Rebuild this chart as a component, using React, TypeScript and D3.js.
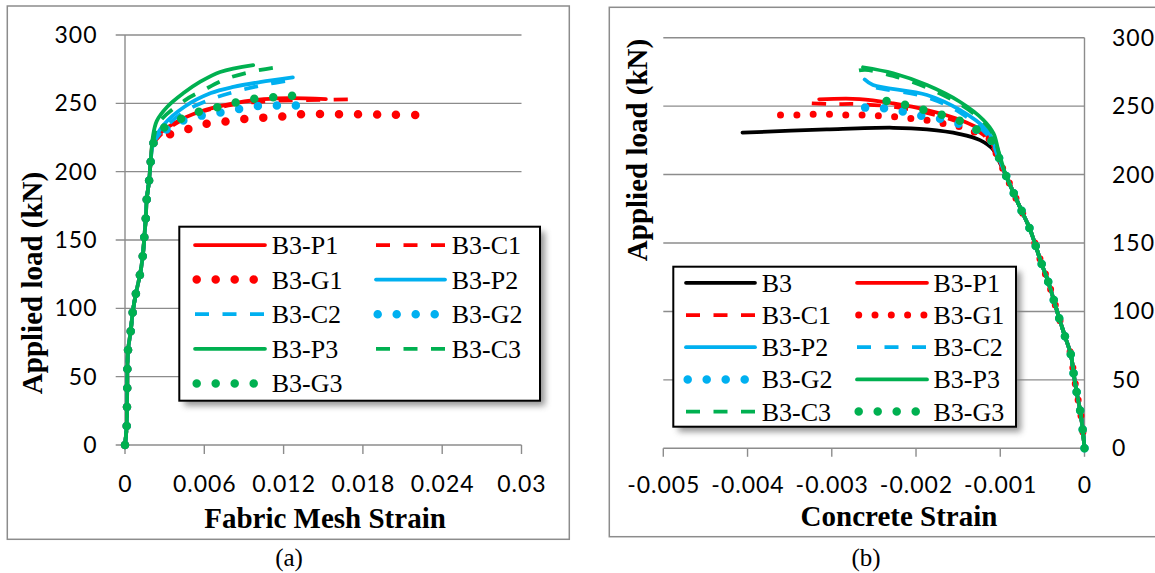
import React from "react";
import * as d3 from "d3";

type Pt = [number, number];

// ---------- Data: (a) Fabric mesh strain vs applied load ----------
const riseA: Pt[] = [
  [0, 0], [0.00013, 14], [0.00015, 28], [0.00017, 42], [0.00018, 55.6], [0.00023, 69.5],
  [0.00043, 83], [0.00058, 97], [0.00083, 111], [0.00113, 124.4], [0.00134, 137.8],
  [0.00146, 152], [0.00157, 165.6], [0.00164, 179.3], [0.00182, 193.2], [0.00194, 206.8],
];
const a_P1: Pt[] = [[0.0021, 220], [0.00265, 228], [0.0037, 235.4], [0.0057, 244], [0.0082, 250], [0.0105, 253], [0.0125, 253.8], [0.0152, 253]];
const a_C1: Pt[] = [[0.0021, 219], [0.0027, 227], [0.004, 236], [0.0057, 243.5], [0.0082, 249], [0.0107, 251.5], [0.0137, 252.4], [0.017, 253]];
const a_G1: Pt[] = [[0.00214, 220.7], [0.00328, 226.8], [0.00471, 231], [0.00613, 234.9], [0.00754, 236.6], [0.00895, 238.5], [0.01039, 239.5], [0.0118, 240.2], [0.01324, 242], [0.01609, 242], [0.02037, 241.7], [0.02325, 241.2]];
const a_P2: Pt[] = [[0.00214, 221], [0.0029, 234], [0.0045, 247.5], [0.0065, 257.5], [0.0082, 262], [0.0102, 265.5], [0.0127, 269]];
const a_C2: Pt[] = [[0.00214, 220], [0.0029, 231], [0.0045, 244], [0.0065, 253], [0.0085, 259], [0.0105, 263.5], [0.0126, 267]];
const a_G2: Pt[] = [[0.00214, 220.7], [0.0029, 229], [0.00429, 237], [0.0058, 241], [0.00719, 243.2], [0.00863, 245.9], [0.01004, 248], [0.01148, 248.5], [0.01292, 248.5], [0.01432, 248.5]];
const a_P3: Pt[] = [[0.0021, 225], [0.0024, 237], [0.0032, 247.5], [0.0044, 257.3], [0.0057, 265.8], [0.0072, 273], [0.0097, 278]];
const a_C3: Pt[] = [[0.00214, 221], [0.0025, 235], [0.0045, 252], [0.006, 260], [0.0077, 268], [0.0095, 273], [0.0112, 276]];
const a_G3: Pt[] = [[0.00214, 220.7], [0.0029, 231.7], [0.00416, 238.3], [0.00555, 243.7], [0.00694, 247.1], [0.00832, 250.5], [0.00971, 253.2], [0.01115, 254.4], [0.01256, 255.5], [0.014, 256.8]];

// ---------- Data: (b) Concrete strain vs applied load ----------
const riseB: Pt[] = [
  [0, 0], [-0.00002, 13], [-0.00005, 27], [-0.00009, 40], [-0.00013, 55], [-0.00016, 68],
  [-0.00023, 81.5], [-0.0003, 95], [-0.00043, 121.5], [-0.00051, 135], [-0.00065, 160.5],
  [-0.00075, 174], [-0.00093, 199],
];
const b_B3: Pt[] = [[-0.00104, 213], [-0.00108, 218], [-0.00124, 225.2], [-0.00148, 229.6], [-0.00187, 233], [-0.00227, 234.2], [-0.00306, 233], [-0.00406, 230.6]];
const b_P1: Pt[] = [[-0.00104, 214], [-0.0011, 223], [-0.0012, 231.3], [-0.00148, 240], [-0.00187, 247.2], [-0.00227, 252], [-0.00267, 255.2], [-0.00315, 255]];
const b_C1: Pt[] = [[-0.00104, 213], [-0.0011, 221], [-0.0012, 229], [-0.00148, 238], [-0.00187, 245], [-0.00227, 249.5], [-0.0027, 251.5], [-0.00302, 251.5], [-0.00336, 252.5]];
const b_G1: Pt[] = [[-0.00104, 214], [-0.00112, 225.3], [-0.00132, 231.3], [-0.00151, 235.5], [-0.0017, 237.5], [-0.00189, 239.9], [-0.00208, 241.1], [-0.00227, 242.3], [-0.00246, 243], [-0.00265, 243.5], [-0.00284, 243.5], [-0.00304, 244], [-0.00324, 244], [-0.00343, 243.5], [-0.00362, 243.5]];
const b_P2: Pt[] = [[-0.00104, 216], [-0.0011, 226.5], [-0.00116, 232.6], [-0.00148, 247.2], [-0.00187, 258.1], [-0.00251, 265.4], [-0.00261, 269.5]];
const b_C2: Pt[] = [[-0.00104, 215], [-0.0011, 225], [-0.0012, 232], [-0.00148, 245.5], [-0.00187, 256.5], [-0.0025, 264], [-0.0026, 266.5]];
const b_G2: Pt[] = [[-0.00104, 216], [-0.00112, 226], [-0.00128, 232.6], [-0.00148, 236.9], [-0.0017, 240.6], [-0.00193, 242.8], [-0.00215, 245.9], [-0.00237, 248.4], [-0.0026, 248.9], [-0.00282, 249.6]];
const b_P3: Pt[] = [[-0.00102, 217], [-0.00108, 230.1], [-0.0012, 239.9], [-0.00148, 253.2], [-0.00187, 265.4], [-0.00227, 274], [-0.00263, 278.4]];
const b_C3: Pt[] = [[-0.00102, 216], [-0.00108, 229], [-0.0012, 238.5], [-0.00148, 251.5], [-0.00187, 263.5], [-0.00227, 272], [-0.0026, 276.5], [-0.00269, 276]];
const b_G3: Pt[] = [[-0.00104, 216], [-0.0011, 224.5], [-0.00127, 232.6], [-0.00147, 239.1], [-0.00168, 243.5], [-0.0019, 247.2], [-0.00212, 250.8], [-0.00234, 253.7], [-0.00256, 255.7]];

const loadTicks = [0, 50, 100, 150, 200, 250, 300];
const meshTicks = [0, 0.006, 0.012, 0.018, 0.024, 0.03];
const meshTickLabels = ["0", "0.006", "0.012", "0.018", "0.024", "0.03"];
const concTicks = [-0.005, -0.004, -0.003, -0.002, -0.001, 0];
const concTickLabels = ["-0.005", "-0.004", "-0.003", "-0.002", "-0.001", "0"];

const RED = "#FF0000";
const BLUE = "#00B0F0";
const GREEN = "#00B050";
const BLACK = "#000000";

type Kind = "solid" | "dash" | "dot";
interface Series { name: string; color: string; kind: Kind; pts: Pt[]; dotW?: number; dotGap?: number; }

const seriesA: Series[] = [
  { name: "B3-P1", color: RED, kind: "solid", pts: [...riseA, ...a_P1] },
  { name: "B3-C1", color: RED, kind: "dash", pts: [...riseA, ...a_C1] },
  { name: "B3-G1", color: RED, kind: "dot", pts: [...riseA, ...a_G1] },
  { name: "B3-P2", color: BLUE, kind: "solid", pts: [...riseA, ...a_P2] },
  { name: "B3-C2", color: BLUE, kind: "dash", pts: [...riseA, ...a_C2] },
  { name: "B3-G2", color: BLUE, kind: "dot", pts: [...riseA, ...a_G2] },
  { name: "B3-P3", color: GREEN, kind: "solid", pts: [...riseA, ...a_P3] },
  { name: "B3-C3", color: GREEN, kind: "dash", pts: [...riseA, ...a_C3] },
  { name: "B3-G3", color: GREEN, kind: "dot", pts: [...riseA, ...a_G3] },
];
const seriesB: Series[] = [
  { name: "B3", color: BLACK, kind: "solid", pts: [...riseB, ...b_B3] },
  { name: "B3-P1", color: RED, kind: "solid", pts: [...riseB, ...b_P1] },
  { name: "B3-C1", color: RED, kind: "dash", pts: [...riseB, ...b_C1] },
  { name: "B3-G1", color: RED, kind: "dot", pts: [...riseB, ...b_G1], dotW: 7, dotGap: 16.3 },
  { name: "B3-P2", color: BLUE, kind: "solid", pts: [...riseB, ...b_P2] },
  { name: "B3-C2", color: BLUE, kind: "dash", pts: [...riseB, ...b_C2] },
  { name: "B3-G2", color: BLUE, kind: "dot", pts: [...riseB, ...b_G2] },
  { name: "B3-P3", color: GREEN, kind: "solid", pts: [...riseB, ...b_P3] },
  { name: "B3-C3", color: GREEN, kind: "dash", pts: [...riseB, ...b_C3] },
  { name: "B3-G3", color: GREEN, kind: "dot", pts: [...riseB, ...b_G3] },
];

const GRID = "#8c8c8c";
const TICK_STYLE: React.CSSProperties = { fontFamily: "Lato", fontSize: 23, letterSpacing: 1, fill: "#000" };
const TITLE_STYLE: React.CSSProperties = { fontFamily: "Liberation Serif", fontWeight: "bold", fontSize: 29, fill: "#000" };
const LEG_STYLE: React.CSSProperties = { fontFamily: "Liberation Serif", fontSize: 26, fill: "#000" };
const CAP_STYLE: React.CSSProperties = { fontFamily: "Liberation Serif", fontSize: 25, fill: "#000" };

function strokeProps(s: Series) {
  if (s.kind === "solid") return { strokeWidth: 3.75, strokeLinecap: "round" as const };
  if (s.kind === "dash") return { strokeWidth: 3.75, strokeDasharray: "14 13.5", strokeLinecap: "butt" as const };
  const w = s.dotW ?? 8.5;
  const g = s.dotGap ?? 19;
  return { strokeWidth: w, strokeDasharray: `0 ${g}`, strokeLinecap: "round" as const };
}

function LegendItem({ s, x0, x1, tx, y }: { s: Series; x0: number; x1: number; tx: number; y: number }) {
  let lx0 = x0, lx1 = x1;
  if (s.kind === "dot") {
    const g = s.dotGap ?? 19;
    const n = g < 18 ? 4 : 3;
    lx0 = x0 + 1.7;
    lx1 = lx0 + n * g + 0.5;
  }
  return (
    <g>
      <line x1={lx0} x2={lx1} y1={y} y2={y} stroke={s.color} fill="none" {...strokeProps(s)} />
      <text x={tx} y={y + 9} style={LEG_STYLE}>{s.name}</text>
    </g>
  );
}

export default function App() {
  const xA = d3.scaleLinear().domain([0, 0.03]).range([125, 521.5]);
  const yA = d3.scaleLinear().domain([0, 300]).range([445, 35]);
  const xB = d3.scaleLinear().domain([-0.005, 0]).range([663.3, 1084.5]);
  const yB = d3.scaleLinear().domain([0, 300]).range([448.3, 37.7]);

  const lineA = d3.line<Pt>().x(d => xA(d[0])).y(d => yA(d[1])).curve(d3.curveCatmullRom.alpha(0.5));
  const lineB = d3.line<Pt>().x(d => xB(d[0])).y(d => yB(d[1])).curve(d3.curveCatmullRom.alpha(0.5));

  const legendRowsA: (Series | null)[][] = [
    [seriesA[0], seriesA[1]],
    [seriesA[2], seriesA[3]],
    [seriesA[4], seriesA[5]],
    [seriesA[6], seriesA[7]],
    [seriesA[8], null],
  ];
  const legendRowsB: (Series | null)[][] = [
    [seriesB[0], seriesB[1]],
    [seriesB[2], seriesB[3]],
    [seriesB[4], seriesB[5]],
    [seriesB[6], seriesB[7]],
    [seriesB[8], seriesB[9]],
  ];

  return (
    <svg width={1155} height={573} style={{ position: "absolute", left: 0, top: 0, background: "#fff" }}>
      <defs>
        <filter id="shadow" x="-10%" y="-10%" width="130%" height="130%">
          <feGaussianBlur stdDeviation="3" />
        </filter>
      </defs>
      <rect x={0} y={0} width={1155} height={573} fill="#fff" />

      {/* ---------- Panel (a) ---------- */}
      <rect x={7.3} y={6} width={562} height={533.3} fill="none" stroke={GRID} strokeWidth={1.5} />
      {loadTicks.map(t => (
        <line key={"ga" + t} x1={115.7} x2={521.5} y1={yA(t)} y2={yA(t)} stroke={GRID} strokeWidth={1.4} />
      ))}
      <line x1={xA(0)} x2={xA(0)} y1={yA(300)} y2={yA(0)} stroke={GRID} strokeWidth={1.4} />
      {meshTicks.map(t => (
        <line key={"ta" + t} x1={xA(t)} x2={xA(t)} y1={yA(0)} y2={yA(0) + 9} stroke={GRID} strokeWidth={1.4} />
      ))}
      {loadTicks.map(t => (
        <text key={"la" + t} x={97.5} y={yA(t) + 8} textAnchor="end" style={TICK_STYLE}>{t}</text>
      ))}
      {meshTicks.map((t, i) => (
        <text key={"lxa" + t} x={xA(t) + 0.5} y={491.7} textAnchor="middle" style={TICK_STYLE}>{meshTickLabels[i]}</text>
      ))}
      <text x={325} y={528} textAnchor="middle" style={TITLE_STYLE}>Fabric Mesh Strain</text>
      <text transform="translate(42,283) rotate(-90)" textAnchor="middle" style={TITLE_STYLE}>Applied load (kN)</text>
      <text x={289} y={566} textAnchor="middle" style={CAP_STYLE}>(a)</text>

      {seriesA.map(s => (
        <path key={"pa" + s.name} d={lineA(s.pts) || ""} fill="none" stroke={s.color} strokeLinejoin="round" {...strokeProps(s)} />
      ))}

      {/* legend (a) */}
      <rect x={184.3} y={231.7} width={360.7} height={174} fill="#7a7a7a" filter="url(#shadow)" opacity={0.8} />
      <rect x={179.3} y={226.7} width={360.7} height={174} fill="#fff" stroke="#000" strokeWidth={2} />
      {legendRowsA.map((row, i) => (
        <g key={"lra" + i}>
          {row[0] && <LegendItem s={row[0]} x0={195} x1={265} tx={271.7} y={245 + i * 34.6} />}
          {row[1] && <LegendItem s={row[1]} x0={376} x1={445} tx={451.7} y={245 + i * 34.6} />}
        </g>
      ))}

      {/* ---------- Panel (b) ---------- */}
      <rect x={609.3} y={7.3} width={600} height={529.4} fill="none" stroke={GRID} strokeWidth={1.5} />
      {loadTicks.map(t => (
        <line key={"gb" + t} x1={663.3} x2={1084.5} y1={yB(t)} y2={yB(t)} stroke={GRID} strokeWidth={1.4} />
      ))}
      <line x1={xB(0)} x2={xB(0)} y1={yB(300)} y2={yB(0)} stroke={GRID} strokeWidth={1.4} />
      {concTicks.map(t => (
        <line key={"tb" + t} x1={xB(t)} x2={xB(t)} y1={yB(0)} y2={yB(0) + 8.5} stroke={GRID} strokeWidth={1.4} />
      ))}
      {loadTicks.map(t => (
        <text key={"lb" + t} x={1112} y={yB(t) + 8} textAnchor="start" style={TICK_STYLE}>{t}</text>
      ))}
      {concTicks.map((t, i) => (
        <text key={"lxb" + t} x={xB(t) + 0.5} y={493} textAnchor="middle" style={TICK_STYLE}>{concTickLabels[i]}</text>
      ))}
      <text x={899} y={525.5} textAnchor="middle" style={TITLE_STYLE}>Concrete Strain</text>
      <text transform="translate(647,150) rotate(-90)" textAnchor="middle" style={TITLE_STYLE}>Applied load (kN)</text>
      <text x={866} y={566} textAnchor="middle" style={CAP_STYLE}>(b)</text>

      {seriesB.map(s => (
        <path key={"pb" + s.name} d={lineB(s.pts) || ""} fill="none" stroke={s.color} strokeLinejoin="round" {...strokeProps(s)} />
      ))}

      {/* legend (b) */}
      <rect x={678.3} y={271.7} width={342.7} height={160} fill="#7a7a7a" filter="url(#shadow)" opacity={0.8} />
      <rect x={673.3} y={266.7} width={342.7} height={160} fill="#fff" stroke="#000" strokeWidth={2} />
      {legendRowsB.map((row, i) => (
        <g key={"lrb" + i}>
          {row[0] && <LegendItem s={row[0]} x0={686} x1={755} tx={761.7} y={282.8 + i * 32.2} />}
          {row[1] && <LegendItem s={row[1]} x0={857} x1={927} tx={933.5} y={282.8 + i * 32.2} />}
        </g>
      ))}
    </svg>
  );
}
